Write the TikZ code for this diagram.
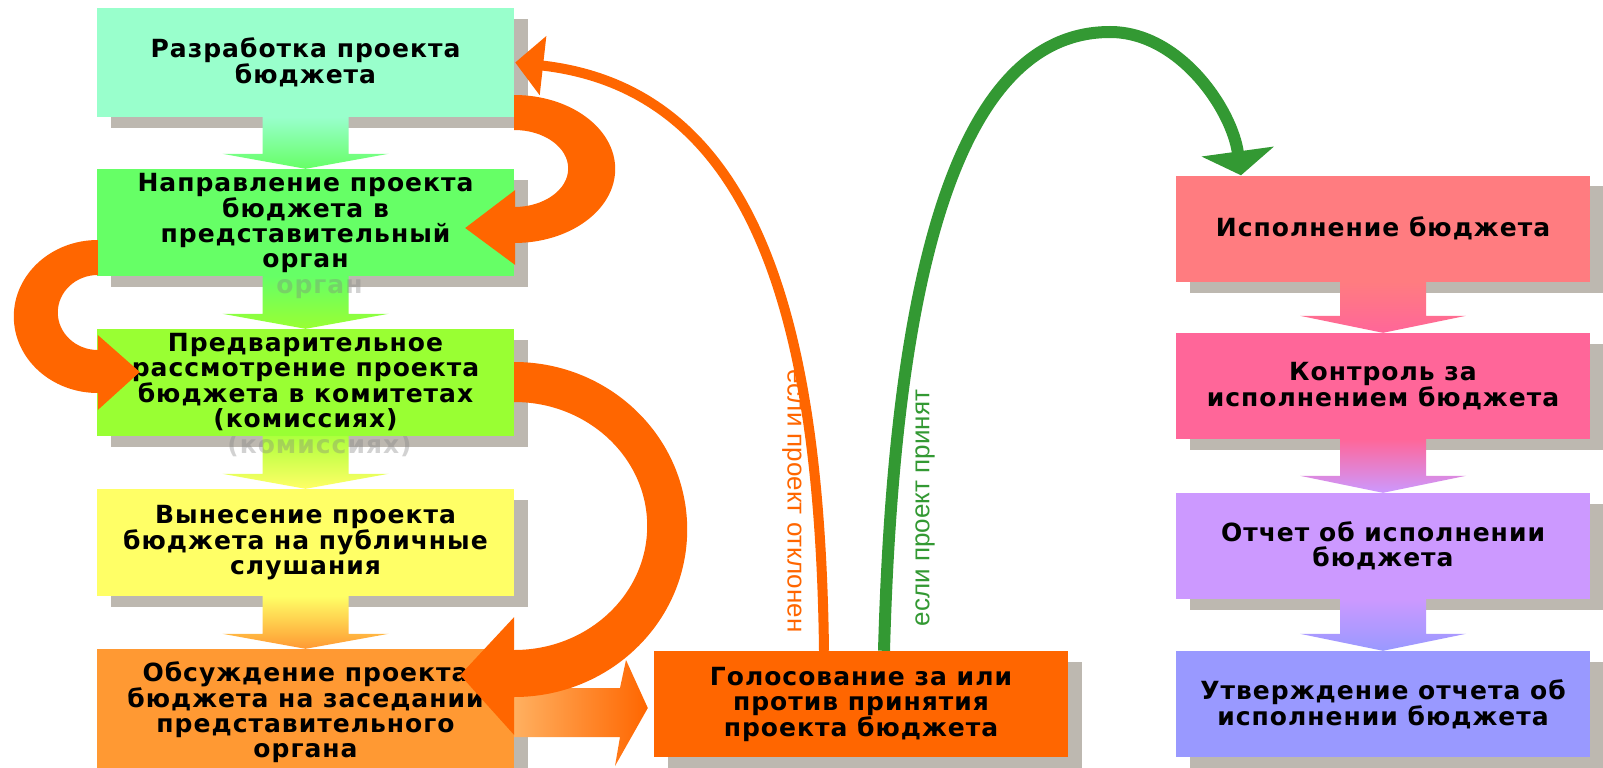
\documentclass[tikz,border=0pt]{standalone}
\usepackage{fontspec}
\setmainfont{DejaVu Sans}
\newfontfamily\labfont{Liberation Sans}
\newfontfamily\boxfont[LetterSpace=4]{DejaVu Sans Bold}
\usetikzlibrary{arrows.meta,calc}
\pgfdeclarelayer{shadowlayer}
\pgfdeclarelayer{shaftlayer}
\pgfsetlayers{shadowlayer,shaftlayer,main}
\definecolor{cA}{HTML}{99FFCC}
\definecolor{cB}{HTML}{66FF66}
\definecolor{cC}{HTML}{99FF33}
\definecolor{cD}{HTML}{FFFF66}
\definecolor{cE}{HTML}{FF9933}
\definecolor{cV}{HTML}{FF6600}
\definecolor{rA}{HTML}{FF7C80}
\definecolor{rB}{HTML}{FF6699}
\definecolor{rC}{HTML}{CC99FF}
\definecolor{rD}{HTML}{9999FF}
\definecolor{shd}{HTML}{BDB8B0}
\definecolor{orA}{HTML}{FF6600}
\definecolor{grA}{HTML}{339933}
\definecolor{peach}{HTML}{FFB060}
\tikzset{
  stage/.style={draw=none, inner sep=0pt, align=center, text=black,
    font=\boxfont\fontsize{25}{25}\selectfont},
  leftbox/.style={stage, minimum width=417pt, minimum height=107pt},
  rightbox/.style={stage, minimum width=414pt, minimum height=106pt},
  band/.style={fill=orA},
  ghost/.style={text=gray, opacity=0.35, font=\boxfont\fontsize{25}{25}\selectfont},
  thinarc/.style={line width=10pt, draw=orA},
  greenarc/.style={line width=12pt, draw=grA},
  vlabel/.style={font=\labfont\fontsize{26}{26}\selectfont, inner sep=0pt}
}
\newcommand\boxshadow[1]{%
  \fill[shd] ([xshift=14pt,yshift=-11pt]#1.south west) rectangle ([xshift=14pt,yshift=-11pt]#1.north east);}
\newcommand\flowdown[5]{% from, to, top colour, bottom colour, head height
  \shade[top color=#3, bottom color=#4]
    ($(#1.south)+(-43,0)$) -- ($(#1.south)+(43,0)$) -- ($(#2.north)+(43,-#5)$) --
    ($(#2.north)+(83,-#5)$) -- (#2.north) -- ($(#2.north)+(-83,-#5)$) --
    ($(#2.north)+(-43,-#5)$) -- cycle;}
\begin{document}
\begin{tikzpicture}[x=1pt,y=-1pt]
\useasboundingbox (0,0) rectangle (1603,768);

% boxes
\node[leftbox, fill=cA, minimum height=109pt] (b1) at (305.5,62.5) {Разработка проекта\\бюджета};
\node[leftbox, fill=cB] (b2) at (305.5,222.5) {Направление проекта\\бюджета в\\представительный\\орган};
\node[leftbox, fill=cC] (b3) at (305.5,382.5) {Предварительное\\рассмотрение проекта\\бюджета в комитетах\\(комиссиях)};
\node[leftbox, fill=cD] (b4) at (305.5,542.5) {Вынесение проекта\\бюджета на публичные\\слушания};
\node[leftbox, fill=cE, minimum height=126pt] (b5) at (305.5,712) {Обсуждение проекта\\бюджета на заседании\\представительного\\органа};
\node[rightbox, fill=cV] (v) at (861,704) {Голосование за или\\против принятия\\проекта бюджета};
\node[rightbox, fill=rA] (r1) at (1383,228.5) {Исполнение бюджета};
\node[rightbox, fill=rB] (r2) at (1383,386) {Контроль за\\исполнением бюджета};
\node[rightbox, fill=rC] (r3) at (1383,546) {Отчет об исполнении\\бюджета};
\node[rightbox, fill=rD] (r4) at (1383,704) {Утверждение отчета об\\исполнении бюджета};

\begin{pgfonlayer}{shadowlayer}
  \fill[white] (0,0) rectangle (1603,768);
  \boxshadow{b1}\boxshadow{b2}\boxshadow{b3}\boxshadow{b4}\boxshadow{b5}
  \boxshadow{v}\boxshadow{r1}\boxshadow{r2}\boxshadow{r3}\boxshadow{r4}
\end{pgfonlayer}

\begin{pgfonlayer}{shaftlayer}
  \flowdown{b1}{b2}{cA}{cB}{15}
  \flowdown{b2}{b3}{cB}{cC}{15}
  \flowdown{b3}{b4}{cC!80!cD}{cD}{15}
  \flowdown{b4}{b5}{cD}{cE}{15}
  \flowdown{r1}{r2}{rA}{rB}{17}
  \flowdown{r2}{r3}{rB}{rC}{17}
  \flowdown{r3}{r4}{rC}{rD}{17}
  \node[ghost] (g1) at (319.5,289) {орган};
  \node[ghost] (g2) at (319.5,446) {(комиссиях)};
\end{pgfonlayer}

% arrow from discussion to voting
\shade[left color=peach, right color=orA]
  ($(b5.east)+(0,-24)$) -- (620,688) -- (626,660) -- ($(v.west)+(-6,4)$) --
  (615,766) -- (620,737) -- ($(b5.east)+(0,25)$) -- cycle;

% thick orange arrow A: b1 -> b2
\fill[band] ($(b1.east)+(0,32.5)$) arc[start angle=90, end angle=-90, x radius=101pt, y radius=74pt]
  -- ($(b1.east)+(0,144.5)$) arc[start angle=-90, end angle=90, x radius=54pt, y radius=38.5pt] -- cycle;
\fill[band] ($(b2.east)+(1,-32.5)$) -- ($(b2.east)+(-49,5.5)$) -- ($(b2.east)+(1,42.5)$) -- cycle;

% thick orange arrow B: b2 -> b3
\fill[band] ($(b2.west)+(1,17.5)$) arc[start angle=90, end angle=270, x radius=84pt, y radius=76.5pt]
  -- ($(b2.west)+(1,127.5)$) arc[start angle=270, end angle=90, x radius=40pt, y radius=37.5pt] -- cycle;
\fill[band] ($(b3.west)+(1,-47.5)$) -- ($(b3.west)+(43,-10.5)$) -- ($(b3.west)+(1,27.5)$) -- cycle;

% thick orange arrow C: b3 -> b5
\fill[band] ($(b3.east)+(0,-20.5)$) arc[start angle=90, end angle=-90, x radius=173pt, y radius=167.5pt]
  -- ($(b3.east)+(0,267.5)$) arc[start angle=-90, end angle=90, x radius=133pt, y radius=124pt] -- cycle;
\fill[band] ($(b5.east)+(0,-95)$) -- ($(b5.east)+(-54,-37)$) -- ($(b5.east)+(0,23)$) -- cycle;

% rejected: back to b1
\draw[thinarc, -{Triangle[length=28pt,width=58pt]}]
  ([xshift=-37pt]v.north) .. controls (820,330) and (760,90) .. ([xshift=1pt]b1.east);
% accepted: to r1
\draw[greenarc, -{Triangle[length=24pt,width=72pt]}]
  ([xshift=23pt]v.north) .. controls (895,250) and (965,32) .. (1110,32)
  .. controls (1180,32) and (1232,110) .. ([xshift=-142pt]r1.north);

\node[vlabel, rotate=-90, text=orA] (lno) at (792,501) {если проект отклонен};
\node[vlabel, rotate=90, text=grA] (lyes) at (925,508) {если проект принят};
\end{tikzpicture}
\end{document}
